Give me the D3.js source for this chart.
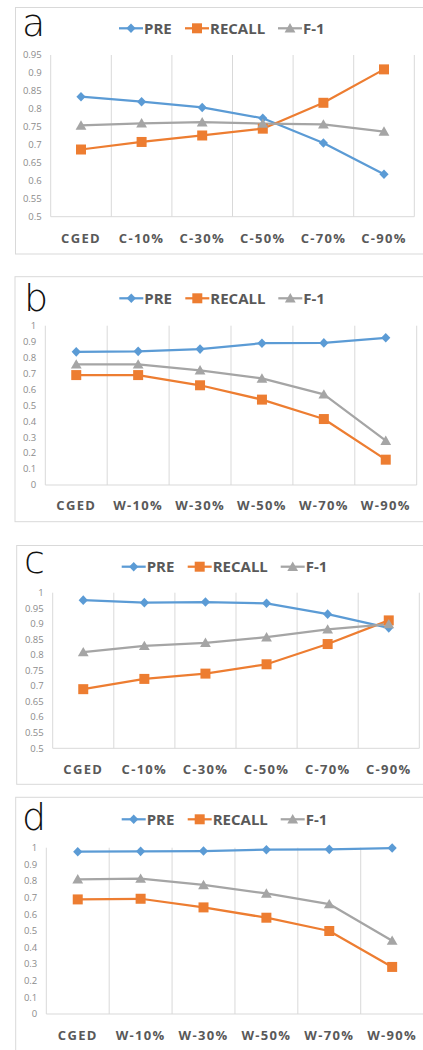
<!DOCTYPE html>
<html>
<head>
<meta charset="utf-8">
<script src="https://cdn.jsdelivr.net/npm/d3@7"></script>
<style>
  html, body { margin: 0; padding: 0; background: #fff; }
  svg { display: block; }
</style>
</head>
<body>
<svg id="chart" width="423" height="1050"></svg>
<script>
// ---------- DATA ----------
const seriesNames = ["PRE", "RECALL", "F-1"];
const catsC = ["CGED", "C-10%", "C-30%", "C-50%", "C-70%", "C-90%"];
const catsW = ["CGED", "W-10%", "W-30%", "W-50%", "W-70%", "W-90%"];

const preA    = [0.834, 0.820, 0.804, 0.774, 0.705, 0.618];
const recallA = [0.687, 0.708, 0.726, 0.745, 0.817, 0.910];
const f1A     = [0.754, 0.760, 0.763, 0.759, 0.757, 0.737];

const preB    = [0.836, 0.839, 0.853, 0.890, 0.892, 0.924];
const recallB = [0.690, 0.690, 0.626, 0.536, 0.414, 0.159];
const f1B     = [0.757, 0.757, 0.720, 0.669, 0.569, 0.278];

const preC    = [0.976, 0.968, 0.970, 0.966, 0.931, 0.887];
const recallC = [0.690, 0.723, 0.740, 0.770, 0.835, 0.911];
const f1C     = [0.809, 0.829, 0.839, 0.857, 0.882, 0.899];

const preD    = [0.976, 0.978, 0.980, 0.988, 0.990, 0.998];
const recallD = [0.689, 0.693, 0.641, 0.579, 0.499, 0.283];
const f1D     = [0.810, 0.814, 0.776, 0.725, 0.661, 0.441];

const ticksA = [0.5, 0.55, 0.6, 0.65, 0.7, 0.75, 0.8, 0.85, 0.9, 0.95];
const ticksB = [0, 0.1, 0.2, 0.3, 0.4, 0.5, 0.6, 0.7, 0.8, 0.9, 1];
const ticksC = [0.5, 0.55, 0.6, 0.65, 0.7, 0.75, 0.8, 0.85, 0.9, 0.95, 1];
const ticksD = [0, 0.1, 0.2, 0.3, 0.4, 0.5, 0.6, 0.7, 0.8, 0.9, 1];

// ---------- STYLE / LAYOUT ----------
const colors = ["#5B9BD5", "#ED7D31", "#A5A5A5"];
const markers = ["diamond", "square", "triangle"];

const panels = [
  { letter: "a", cats: catsC, series: [preA, recallA, f1A], ticks: ticksA,
    frame: {x: 15.5, y: 7.5, b: 254}, plot: {l: 50.7, r: 414.3, t: 55, b: 216.7},
    legendY: 28.3, legendX: 119, letterPos: {x: 22, y: 36}, xlabY: 238 },
  { letter: "b", cats: catsW, series: [preB, recallB, f1B], ticks: ticksB,
    frame: {x: 15, y: 276.7, b: 521.7}, plot: {l: 45.3, r: 416.7, t: 325.7, b: 485},
    legendY: 298.3, legendX: 119.3, letterPos: {x: 24, y: 310.5}, xlabY: 505.7 },
  { letter: "c", cats: catsC, series: [preC, recallC, f1C], ticks: ticksC,
    frame: {x: 16.7, y: 545.5, b: 784.3}, plot: {l: 52.7, r: 419.3, t: 592.7, b: 748.3},
    legendY: 566.7, legendX: 121.7, letterPos: {x: 24, y: 573.3}, xlabY: 769 },
  { letter: "d", cats: catsW, series: [preD, recallD, f1D], ticks: ticksD,
    frame: {x: 15.7, y: 797.3, b: 1070}, plot: {l: 46.3, r: 423.6, t: 847.7, b: 1014},
    legendY: 819.3, legendX: 121.7, letterPos: {x: 22, y: 830}, xlabY: 1035 }
];

const legendOffsets = [0, 66, 159];

const svg = d3.select("#chart");

function markerPath(type) {
  if (type === "diamond") return "M0,-4.8L4.6,0L0,4.8L-4.6,0Z";
  if (type === "square") return "M-5,-5H5V5H-5Z";
  return "M0,-5.2L5.4,4.2L-5.4,4.2Z";
}

function fmt(v) {
  return String(+v.toFixed(2));
}

panels.forEach(p => {
  const g = svg.append("g");

  // frame
  g.append("rect")
    .attr("x", p.frame.x).attr("y", p.frame.y)
    .attr("width", 440 - p.frame.x).attr("height", p.frame.b - p.frame.y)
    .attr("fill", "#fff").attr("stroke", "#d9d9d9").attr("stroke-width", 1);

  const x = d3.scaleBand().domain(p.cats).range([p.plot.l, p.plot.r]).padding(0);
  const y = d3.scaleLinear().domain([p.ticks[0], p.ticks[p.ticks.length - 1]])
    .range([p.plot.b, p.plot.t]);

  // vertical gridlines at category boundaries
  const bounds = p.cats.map(c => x(c)).concat([x(p.cats[p.cats.length - 1]) + x.bandwidth()]);
  g.selectAll(".vg").data(bounds).enter().append("line")
    .attr("x1", d => d).attr("x2", d => d)
    .attr("y1", p.plot.t).attr("y2", p.plot.b)
    .attr("stroke", "#d9d9d9").attr("stroke-width", 1);

  // bottom axis line
  g.append("line")
    .attr("x1", p.plot.l).attr("x2", p.plot.r)
    .attr("y1", p.plot.b).attr("y2", p.plot.b)
    .attr("stroke", "#d9d9d9").attr("stroke-width", 1);

  // y tick labels
  g.selectAll(".yt").data(p.ticks).enter().append("text")
    .attr("x", p.plot.l - 9).attr("y", d => y(d) + 3.3)
    .attr("text-anchor", "end")
    .attr("font-family", "'Open Sans', 'Noto Sans', sans-serif")
    .attr("font-size", 9.5)
    .attr("fill", "#8c8c8c")
    .text(d => fmt(d));

  // x category labels
  g.selectAll(".xt").data(p.cats).enter().append("text")
    .attr("x", d => x(d) + x.bandwidth() / 2)
    .attr("y", p.xlabY + 4.7)
    .attr("text-anchor", "middle")
    .attr("font-family", "'Open Sans', 'Noto Sans', sans-serif")
    .attr("font-weight", 700)
    .attr("font-size", 13)
    .attr("letter-spacing", 1.3)
    .attr("fill", "#595959")
    .text(d => d);

  // series lines and markers
  const line = d3.line()
    .x((d, i) => x(p.cats[i]) + x.bandwidth() / 2)
    .y(d => y(d));

  p.series.forEach((vals, si) => {
    g.append("path")
      .attr("d", line(vals))
      .attr("fill", "none")
      .attr("stroke", colors[si])
      .attr("stroke-width", 2.25)
      .attr("stroke-linejoin", "round");
  });
  p.series.forEach((vals, si) => {
    g.selectAll(".m" + si).data(vals).enter().append("path")
      .attr("transform", (d, i) => `translate(${x(p.cats[i]) + x.bandwidth() / 2},${y(d)})`)
      .attr("d", markerPath(markers[si]))
      .attr("fill", colors[si]);
  });

  // legend
  seriesNames.forEach((name, si) => {
    const lx = p.legendX + legendOffsets[si];
    g.append("line")
      .attr("x1", lx).attr("x2", lx + 24)
      .attr("y1", p.legendY).attr("y2", p.legendY)
      .attr("stroke", colors[si]).attr("stroke-width", 2.25);
    g.append("path")
      .attr("transform", `translate(${lx + 12},${p.legendY})`)
      .attr("d", markerPath(markers[si]))
      .attr("fill", colors[si]);
    g.append("text")
      .attr("x", lx + 25).attr("y", p.legendY + 5.5)
      .attr("font-family", "'Open Sans', 'Noto Sans', sans-serif")
      .attr("font-weight", 700)
      .attr("font-size", 15)
      .attr("fill", "#595959")
      .text(name);
  });

  // panel letter
  g.append("text")
    .attr("x", p.letterPos.x).attr("y", p.letterPos.y)
    .attr("font-family", "'DejaVu Sans', 'Noto Sans', sans-serif")
    .attr("font-weight", 200)
    .attr("font-size", 38)
    .attr("fill", "#111")
    .text(p.letter);
});
</script>
</body>
</html>
